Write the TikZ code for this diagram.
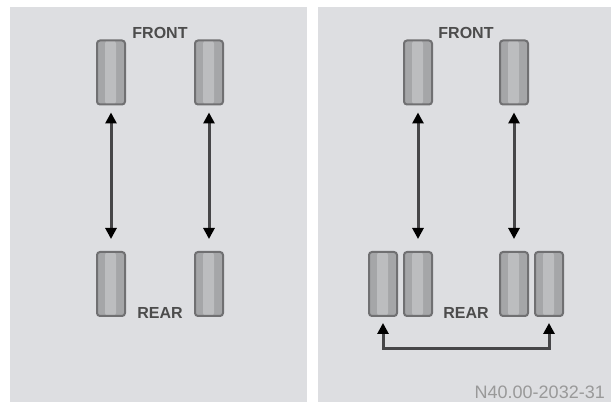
\documentclass[tikz,border=0pt]{standalone}
\usepackage{fontspec}
\setmainfont{Liberation Sans}
\usepackage{tikz}
\usetikzlibrary{arrows.meta,positioning,calc}
\definecolor{panelbg}{RGB}{221,222,225}
\definecolor{tireedge}{RGB}{112,112,114}
\definecolor{tirefill}{RGB}{165,166,168}
\definecolor{tirelight}{RGB}{188,189,191}
\definecolor{shaft}{RGB}{70,70,72}

\begin{document}
\begin{tikzpicture}[
  x=1pt, y=1pt,
  tire/.style={draw=tireedge, line width=2pt, fill=tirefill, rounded corners=3pt,
    minimum width=28pt, minimum height=64pt, inner sep=0pt,
    path picture={\fill[tirelight] ([xshift=-6pt]path picture bounding box.south)
      rectangle ([xshift=5pt]path picture bounding box.north);}},
  swaparrow/.style={{Triangle[length=11pt,width=11pt,color=black]}-{Triangle[length=11pt,width=11pt,color=black]},
    draw=shaft, line width=3pt},
  lbl/.style={font=\fontsize{16}{18}\selectfont\bfseries, text=black!70, inner sep=0pt},
  code/.style={font=\fontsize{18}{20}\selectfont, text=black!40, inner sep=0pt},
  node distance=5pt
]
  % panels
  \fill[white] (0,0) rectangle (611,402);
  \fill[panelbg] (10,0) rectangle (307,395);
  \fill[panelbg] (318,0) rectangle (611,395);

  % left panel: single rear wheels
  \node[tire] (FL) at (111,329.5) {};
  \node[tire] (FR) at (209,329.5) {};
  \node[tire] (RL) at (111,118) {};
  \node[tire] (RR) at (209,118) {};

  \foreach \i/\j in {FL/RL, FR/RR} {
    \draw[swaparrow, shorten <=7pt, shorten >=12pt] (\i) -- (\j);
  }

  \node[lbl, anchor=base] (front1) at ($(FL.north)!.5!(FR.north)+(0,1)$) {FRONT};
  \node[lbl, anchor=base] (rear1) at ($(RL.south)!.5!(RR.south)+(0,-2)$) {REAR};

  % right panel: twin rear wheels
  \node[tire] (FL2) at (418,329.5) {};
  \node[tire] (FR2) at (514,329.5) {};
  \node[tire] (RLi) at (418,118) {};
  \node[tire] (RRi) at (514,118) {};
  \node[tire, left=of RLi] (RLo) {};
  \node[tire, right=of RRi] (RRo) {};

  \foreach \i/\j in {FL2/RLi, FR2/RRi} {
    \draw[swaparrow, shorten <=7pt, shorten >=12pt] (\i) -- (\j);
  }

  % outer rear wheels change sides
  \draw[swaparrow] ([yshift=-6pt]RLo.south) -- ++(0,-26) -| ([yshift=-6pt]RRo.south);

  \node[lbl, anchor=base] (front2) at ($(FL2.north)!.5!(FR2.north)+(0,1)$) {FRONT};
  \node[lbl, anchor=base] (rear2) at ($(RLi.south)!.5!(RRi.south)+(0,-2)$) {REAR};

  \node[code, anchor=base east] (ref) at (605,4) {N40.00-2032-31};
\end{tikzpicture}
\end{document}
